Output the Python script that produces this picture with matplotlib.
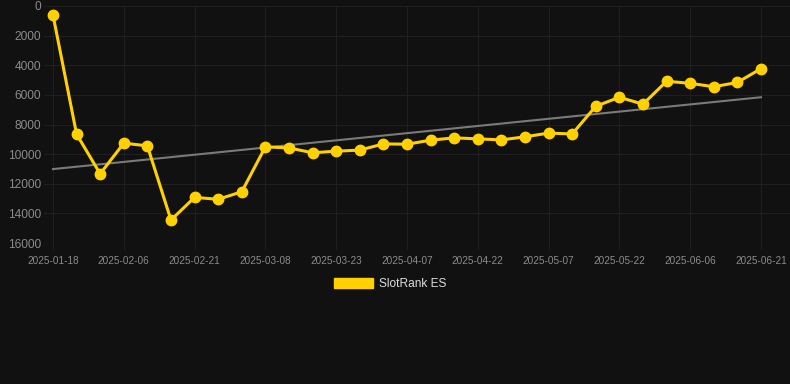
import numpy as np
import matplotlib.pyplot as plt
from matplotlib.patches import Patch

# weekly-ish rank values, y axis is reversed (0 at top)
ranks = [600, 8650, 11330, 9260, 9440, 14450, 12920, 13050, 12540, 9510,
         9580, 9910, 9800, 9730, 9310, 9330, 9060, 8900, 8970, 9040,
         8830, 8580, 8640, 6770, 6160, 6630, 5080, 5220, 5450, 5160, 4230]
tick_labels = ["2025-01-18", "2025-02-06", "2025-02-21", "2025-03-08",
               "2025-03-23", "2025-04-07", "2025-04-22", "2025-05-07",
               "2025-05-22", "2025-06-06", "2025-06-21"]
y_ticks = [0, 2000, 4000, 6000, 8000, 10000, 12000, 14000, 16000]

bg = "#111111"
grid_col = "#1f1f1f"
text_col = "#8c8c8c"
gold = "#FFD100"

plt.rcParams['font.family'] = ['Liberation Sans', 'DejaVu Sans']

fig = plt.figure(figsize=(7.9, 3.84), dpi=100, facecolor=bg)
ax = fig.add_axes([44 / 790, 1 - 243 / 384, (790 - 44) / 790, (243 - 6) / 384])
ax.set_facecolor(bg)

x = np.arange(len(ranks))

# trend line from a linear fit
coef = np.polyfit(x, ranks, 1)
ax.plot(x, np.polyval(coef, x), color="#7a7a7a", lw=1.5, zorder=2)

ax.plot(x, ranks, color=gold, lw=2.2, marker="o", markersize=7.5,
        markerfacecolor=gold, markeredgecolor=gold, zorder=3)

ax.set_ylim(16000, 0)
ax.set_yticks(y_ticks)
ax.set_yticklabels([str(v) for v in y_ticks])
ax.set_xlim(-0.38, 31.23)
ax.set_xticks(x[::3])
ax.set_xticklabels(tick_labels)

ax.grid(True, color=grid_col, lw=0.8)
ax.set_axisbelow(True)
for s in ax.spines.values():
    s.set_visible(False)
ax.tick_params(axis="y", colors=text_col, labelsize=8.6, length=0, pad=2)
ax.tick_params(axis="x", colors=grid_col, labelcolor=text_col, labelsize=7.2,
               length=5, width=0.8, pad=4)

fig.legend(handles=[Patch(facecolor=gold, edgecolor=gold, label="SlotRank ES")],
           loc="center", bbox_to_anchor=(390 / 790, 1 - 284 / 384),
           frameon=False, fontsize=8.6, labelcolor="#dddddd",
           handlelength=3.3, handleheight=1.0, handletextpad=0.5)

fig.savefig("out.png", facecolor=bg)
